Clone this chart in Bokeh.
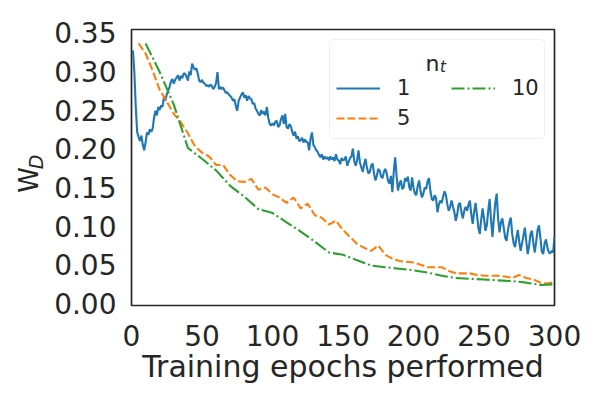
import math
from bokeh.plotting import figure
from bokeh.models import (Range1d, FixedTicker, NumeralTickFormatter, Legend,
                          LegendItem, Label, BoxAnnotation, LinearAxis)
from bokeh.embed import file_html
from bokeh.resources import INLINE

# ---------------- data ----------------
epochs_1 = list(range(1, 301))
wd_1 = [
    0.327, 0.300, 0.255, 0.222, 0.215, 0.210, 0.217, 0.205, 0.198, 0.208,
    0.221, 0.218, 0.225, 0.222, 0.226, 0.240, 0.249, 0.243, 0.254, 0.250,
    0.256, 0.254, 0.267, 0.262, 0.270, 0.275, 0.280, 0.287, 0.290, 0.284,
    0.289, 0.292, 0.295, 0.288, 0.294, 0.291, 0.297, 0.297, 0.293, 0.288,
    0.300, 0.295, 0.310, 0.305, 0.302, 0.304, 0.297, 0.288, 0.286, 0.289,
    0.285, 0.284, 0.281, 0.282, 0.280, 0.283, 0.281, 0.277, 0.280, 0.285,
    0.299, 0.277, 0.280, 0.277, 0.279, 0.275, 0.272, 0.273, 0.270, 0.268,
    0.266, 0.262, 0.264, 0.255, 0.249, 0.262, 0.266, 0.270, 0.273, 0.266,
    0.269, 0.262, 0.268, 0.265, 0.264, 0.258, 0.259, 0.252, 0.249, 0.245,
    0.243, 0.250, 0.245, 0.248, 0.243, 0.254, 0.240, 0.232, 0.230, 0.233,
    0.230, 0.235, 0.236, 0.228, 0.230, 0.238, 0.243, 0.232, 0.245, 0.228,
    0.226, 0.232, 0.229, 0.222, 0.217, 0.222, 0.213, 0.216, 0.210, 0.211,
    0.214, 0.208, 0.212, 0.209, 0.208, 0.198, 0.213, 0.221, 0.205, 0.202,
    0.198, 0.196, 0.192, 0.189, 0.193, 0.186, 0.190, 0.187, 0.189, 0.185,
    0.190, 0.186, 0.189, 0.184, 0.193, 0.186, 0.185, 0.180, 0.188, 0.185,
    0.186, 0.190, 0.178, 0.183, 0.188, 0.190, 0.200, 0.184, 0.178, 0.185,
    0.198, 0.182, 0.176, 0.170, 0.180, 0.187, 0.175, 0.168, 0.170, 0.178,
    0.181, 0.168, 0.159, 0.165, 0.174, 0.172, 0.164, 0.162, 0.170, 0.174,
    0.168, 0.158, 0.155, 0.165, 0.144, 0.170, 0.189, 0.165, 0.146, 0.155,
    0.159, 0.148, 0.150, 0.162, 0.158, 0.164, 0.150, 0.146, 0.163, 0.150,
    0.142, 0.140, 0.152, 0.159, 0.145, 0.137, 0.142, 0.150, 0.148, 0.158,
    0.162, 0.145, 0.135, 0.133, 0.140, 0.136, 0.118, 0.128, 0.133, 0.130,
    0.138, 0.145, 0.140, 0.128, 0.120, 0.125, 0.133, 0.125, 0.118, 0.107,
    0.115, 0.128, 0.130, 0.118, 0.110, 0.120, 0.125, 0.120, 0.128, 0.133,
    0.115, 0.103, 0.118, 0.130, 0.115, 0.098, 0.090, 0.108, 0.123, 0.110,
    0.094, 0.101, 0.120, 0.135, 0.108, 0.086, 0.110, 0.130, 0.142, 0.110,
    0.092, 0.105, 0.110, 0.098, 0.085, 0.081, 0.095, 0.105, 0.111, 0.090,
    0.078, 0.073, 0.085, 0.095, 0.080, 0.068, 0.078, 0.088, 0.098, 0.080,
    0.064, 0.075, 0.090, 0.094, 0.078, 0.066, 0.080, 0.095, 0.101, 0.085,
    0.067, 0.064, 0.078, 0.083, 0.072, 0.066, 0.065, 0.068, 0.066, 0.086,
]

epochs_5 = list(range(5, 301, 5))
wd_5 = [
    0.336, 0.323, 0.301, 0.276, 0.261, 0.245, 0.234, 0.220, 0.203, 0.195,
    0.190, 0.179, 0.179, 0.166, 0.158, 0.157, 0.161, 0.147, 0.150, 0.141,
    0.137, 0.130, 0.137, 0.123, 0.129, 0.114, 0.111, 0.102, 0.107, 0.095,
    0.086, 0.077, 0.072, 0.068, 0.075, 0.063, 0.058, 0.055, 0.054, 0.053,
    0.050, 0.047, 0.047, 0.047, 0.042, 0.039, 0.039, 0.039, 0.037, 0.036,
    0.036, 0.036, 0.035, 0.033, 0.037, 0.033, 0.031, 0.027, 0.026, 0.028,
]

epochs_10 = list(range(10, 301, 10))
wd_10 = [
    0.336, 0.299, 0.257, 0.201, 0.187, 0.172, 0.152, 0.138, 0.122, 0.117,
    0.105, 0.093, 0.080, 0.066, 0.063, 0.056, 0.049, 0.047, 0.045, 0.043,
    0.040, 0.036, 0.033, 0.032, 0.031, 0.030, 0.029, 0.027, 0.024, 0.025,
]

x_ticks = [0, 50, 100, 150, 200, 250, 300]
y_ticks = [0.0, 0.05, 0.10, 0.15, 0.20, 0.25, 0.30, 0.35]
series_labels = ["1", "5", "10"]
x_label = "Training epochs performed"
y_label_main = "W\u00a0\u00a0\u00a0"
y_label_sub = "D"

# ---------------- style / layout ----------------
FONT = "DejaVu Sans"
TXT = "#262626"
BLUE, ORANGE, GREEN = "#1f77b4", "#ff7f0e", "#2ca02c"

FL, FT, FW, FH = 131, 29, 423, 276        # frame placement in pixels
X0, X1 = 0, 300
Y0, Y1 = -0.0025, 0.354


def dx(px):   # pixel column -> x data (for annotations only)
    return X0 + (px - FL) / FW * (X1 - X0)


def dy(py):   # pixel row -> y data (for annotations only)
    return Y0 + (FT + FH - py) / FH * (Y1 - Y0)


p = figure(frame_width=FW, frame_height=FH,
           min_border_left=FL, min_border_right=600 - FL - FW,
           min_border_top=FT, min_border_bottom=400 - FT - FH,
           x_range=Range1d(X0, X1), y_range=Range1d(Y0, Y1),
           output_backend="svg", toolbar_location=None,
           background_fill_color="white", border_fill_color="white")

p.grid.visible = False
p.outline_line_color = TXT
p.outline_line_width = 1.7

xax = p.xaxis[0]
yax = p.yaxis[0]
for ax in (xax, yax):
    ax.axis_line_color = None
    ax.major_tick_line_color = None
    ax.minor_tick_line_color = None
    ax.major_label_text_font = FONT
    ax.major_label_text_font_size = "28px"
    ax.major_label_text_color = TXT

xax.ticker = FixedTicker(ticks=x_ticks)
yax.ticker = FixedTicker(ticks=y_ticks)
yax.formatter = NumeralTickFormatter(format="0.00")
xax.major_label_standoff = 13
yax.major_label_standoff = 9

xax.axis_label = x_label
xax.axis_label_text_font = FONT
xax.axis_label_text_font_size = "30px"
xax.axis_label_text_font_style = "normal"
xax.axis_label_text_color = TXT
xax.axis_label_standoff = 0

# outer left axis carrying the y label: "W" as axis label, "D" as subscript
sub_tick = 0.183
yax2 = LinearAxis(ticker=FixedTicker(ticks=[sub_tick]),
                  major_label_overrides={sub_tick: y_label_sub},
                  axis_line_color=None, major_tick_line_color=None,
                  minor_tick_line_color=None, major_tick_out=0,
                  major_tick_in=0, minor_tick_out=0,
                  major_label_orientation="parallel",
                  major_label_standoff=4,
                  major_label_text_font=FONT, major_label_text_font_size="19px",
                  major_label_text_font_style="italic",
                  major_label_text_color=TXT,
                  axis_label=y_label_main, axis_label_text_font=FONT,
                  axis_label_text_font_size="26px",
                  axis_label_text_font_style="normal",
                  axis_label_text_color=TXT, axis_label_standoff=-21)
p.add_layout(yax2, "left")

r1 = p.line(epochs_1, wd_1, line_color=BLUE, line_width=2.1)
r5 = p.line(epochs_5, wd_5, line_color=ORANGE, line_width=2.1, line_dash="8 3")
r10 = p.line(epochs_10, wd_10, line_color=GREEN, line_width=2.1, line_dash="13 3 2 3")

# legend frame
p.add_layout(BoxAnnotation(left=dx(329), right=dx(544), top=dy(39),
                           bottom=dy(138), fill_color="white", fill_alpha=0.8,
                           line_color="#cccccc", line_width=1,
                           border_radius=4, level="annotation"))
# legend title n_t
p.add_layout(Label(x=dx(425), y=dy(63.3), text="n", text_font=FONT,
                   text_font_size="22px", text_color=TXT,
                   text_align="left", text_baseline="alphabetic"))
p.add_layout(Label(x=dx(439.5), y=dy(66.5), text="t", text_font=FONT,
                   text_font_size="15px", text_font_style="italic",
                   text_color=TXT, text_align="left",
                   text_baseline="alphabetic"))

common = dict(label_text_font=FONT, label_text_font_size="21px",
              label_text_color=TXT, glyph_width=44, glyph_height=28,
              label_height=28, label_standoff=17, padding=0, margin=0,
              border_line_color=None, background_fill_alpha=0)
leg_a = Legend(items=[LegendItem(label=series_labels[0], renderers=[r1]),
                      LegendItem(label=series_labels[1], renderers=[r5])],
               location=(336 - FL, FT + FH - 132), spacing=2, **common)
leg_b = Legend(items=[LegendItem(label=series_labels[2], renderers=[r10])],
               location=(451 - FL, FT + FH - 102), spacing=0, **common)
p.add_layout(leg_a)
p.add_layout(leg_b)

open("out.html", "w").write(file_html(p, INLINE))
